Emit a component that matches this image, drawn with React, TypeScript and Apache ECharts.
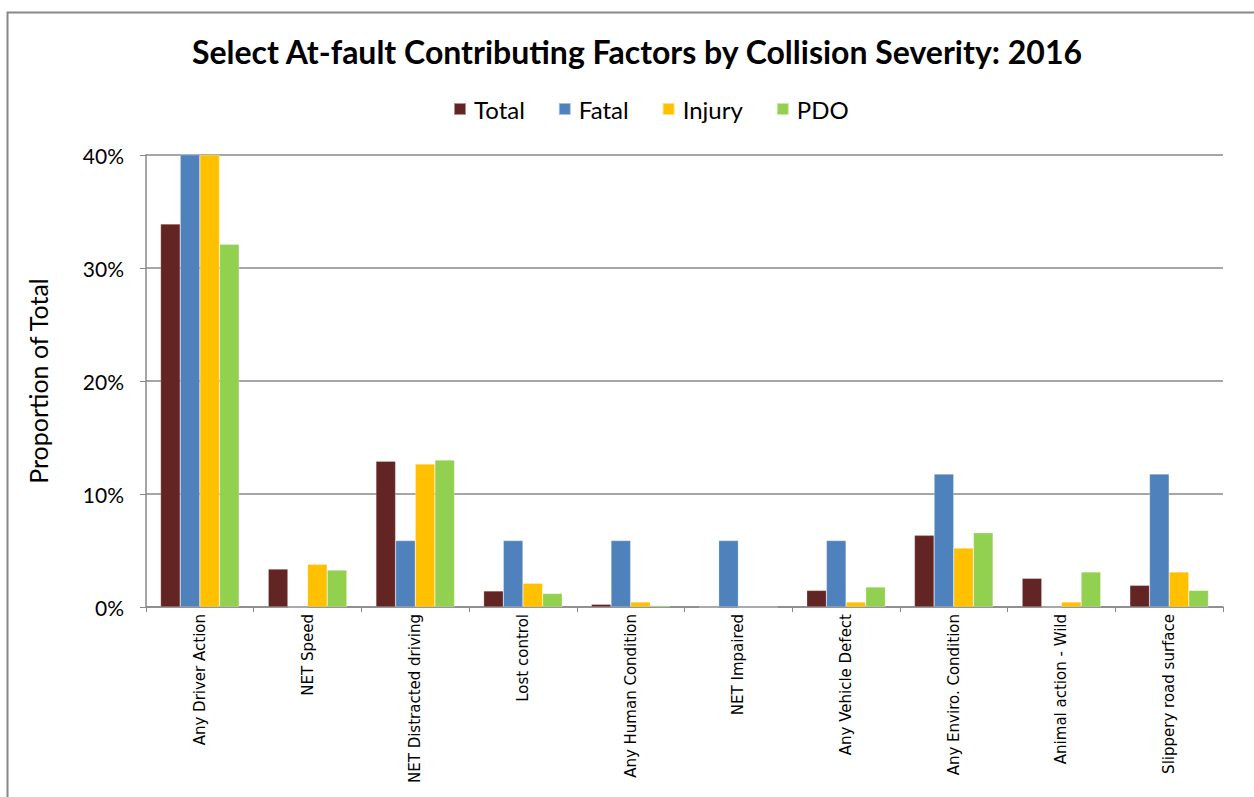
import React, { useEffect, useRef } from "react";
import * as echarts from "echarts";

const categories = [
  "Any Driver Action",
  "NET Speed",
  "NET Distracted driving",
  "Lost control",
  "Any Human Condition",
  "NET Impaired",
  "Any Vehicle Defect",
  "Any Enviro. Condition",
  "Animal action - Wild",
  "Slippery road surface",
];
const totalValues = [33.9, 3.36, 12.9, 1.42, 0.24, 0, 1.47, 6.34, 2.54, 1.92];
const fatalValues = [47.1, 0, 5.88, 5.88, 5.88, 5.88, 5.88, 11.76, 0, 11.76];
const injuryValues = [44.0, 3.78, 12.65, 2.1, 0.44, 0, 0.44, 5.22, 0.44, 3.1];
const pdoValues = [32.1, 3.27, 13.0, 1.2, 0.12, 0, 1.77, 6.58, 3.1, 1.47];
const yTicks = [0, 10, 20, 30, 40];

const seriesDefs = [
  { name: "Total", data: totalValues, color: "#632523" },
  { name: "Fatal", data: fatalValues, color: "#4F81BD" },
  { name: "Injury", data: injuryValues, color: "#FFC000" },
  { name: "PDO", data: pdoValues, color: "#92D050" },
];

export default function App() {
  const ref = useRef<HTMLDivElement>(null);
  useEffect(() => {
    if (!ref.current) return;
    const chart = echarts.init(ref.current, null, { renderer: "svg" });
    chart.setOption({
      animation: false,
      backgroundColor: "#ffffff",
      title: {
        text: "Select At-fault Contributing Factors by Collision Severity: 2016",
        left: 632,
        textAlign: "center",
        top: 30,
        textStyle: { fontFamily: "Lato", fontWeight: "bold", fontSize: 32, color: "#000" },
      },
      legend: {
        left: 448,
        top: 92,
        itemWidth: 12,
        itemHeight: 12,
        itemGap: 33,
        icon: "rect",
        textStyle: { fontFamily: "Lato", fontSize: 24, color: "#000", padding: [0, 0, 0, 3] },
        data: seriesDefs.map((s) => s.name),
      },
      graphic: [
        {
          type: "rect",
          left: 5,
          top: 10,
          shape: { width: 1300, height: 850 },
          style: { fill: "none", stroke: "#888888", lineWidth: 2 },
          silent: true,
        },
      ],
      grid: { left: 146, right: 31, top: 155, bottom: 190, containLabel: false },
      xAxis: {
        type: "category",
        data: categories,
        axisLine: { lineStyle: { color: "#888888", width: 1.5 } },
        axisTick: { show: true, length: 5, lineStyle: { color: "#888888" } },
        axisLabel: {
          rotate: 90,
          interval: 0,
          margin: 7,
          fontFamily: "DejaVu Sans",
          fontSize: 15,
          color: "#000",
        },
      },
      yAxis: {
        type: "value",
        min: 0,
        max: 40,
        interval: 10,
        name: "Proportion of Total",
        nameLocation: "middle",
        nameGap: 96,
        nameTextStyle: { fontFamily: "Lato", fontSize: 25, color: "#000" },
        axisLine: { show: true, lineStyle: { color: "#888888", width: 1.5 } },
        axisTick: { show: true, length: 6, inside: false, lineStyle: { color: "#888888" } },
        axisLabel: {
          fontFamily: "Lato",
          fontSize: 21,
          color: "#000",
          margin: 22,
          formatter: (v: number) => (yTicks.includes(v) ? v + "%" : ""),
        },
        splitLine: { show: true, lineStyle: { color: "#888888", width: 1.5 } },
      },
      series: seriesDefs.map((s) => ({
        name: s.name,
        type: "bar",
        data: s.data,
        barGap: "0%",
        barCategoryGap: "27%",
        clip: true,
        itemStyle: { color: s.color, borderColor: "rgba(255,255,255,0.5)", borderWidth: 0.5 },
      })),
    });
    return () => chart.dispose();
  }, []);
  return (
    <div
      ref={ref}
      style={{ position: "fixed", left: 0, top: 0, width: 1254, height: 797 }}
    />
  );
}
